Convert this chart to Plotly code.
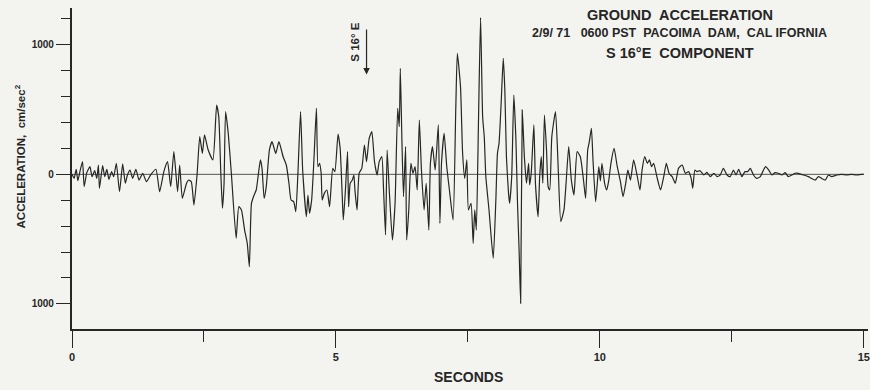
import plotly.graph_objects as go

# Strong-motion record, Pacoima Dam, S16E component (time in s, acceleration in cm/s^2)
t_sec = [
    0.00, 0.04, 0.08, 0.11, 0.15, 0.20, 0.23, 0.28, 0.34, 0.38, 0.43, 0.47, 0.50, 0.52,
    0.58, 0.62, 0.66, 0.70, 0.75, 0.79, 0.84, 0.90, 0.96, 1.01, 1.05, 1.10, 1.15, 1.21,
    1.27, 1.34, 1.41, 1.49, 1.59, 1.66, 1.74, 1.81, 1.87, 1.93, 2.00, 2.04, 2.09, 2.17,
    2.21, 2.26, 2.31, 2.37, 2.42, 2.47, 2.51, 2.58, 2.67, 2.74, 2.78, 2.82, 2.85, 2.88,
    2.91, 2.96, 3.02, 3.11, 3.16, 3.21, 3.27, 3.32, 3.36, 3.40, 3.45, 3.49, 3.53, 3.57,
    3.60, 3.64, 3.68, 3.74, 3.79, 3.86, 3.92, 4.00, 4.06, 4.11, 4.15, 4.20, 4.24, 4.28,
    4.33, 4.37, 4.44, 4.47, 4.50, 4.54, 4.58, 4.63, 4.66, 4.69, 4.72, 4.74, 4.78, 4.83,
    4.88, 4.94, 4.98, 5.04, 5.08, 5.12, 5.14, 5.18, 5.22, 5.24, 5.27, 5.31, 5.34, 5.36,
    5.40, 5.44, 5.49, 5.54, 5.58, 5.63, 5.68, 5.73, 5.78, 5.82, 5.87, 5.90, 5.94, 5.97,
    6.01, 6.07, 6.12, 6.17, 6.20, 6.22, 6.25, 6.28, 6.32, 6.34, 6.38, 6.42, 6.46, 6.50,
    6.54, 6.58, 6.62, 6.67, 6.71, 6.76, 6.79, 6.83, 6.88, 6.94, 6.97, 7.00, 7.05, 7.10,
    7.15, 7.22, 7.27, 7.30, 7.36, 7.40, 7.44, 7.48, 7.51, 7.56, 7.60, 7.63, 7.66, 7.70,
    7.74, 7.78, 7.81, 7.84, 7.90, 7.98, 8.03, 8.06, 8.09, 8.13, 8.17, 8.20, 8.23, 8.27,
    8.29, 8.33, 8.37, 8.41, 8.44, 8.47, 8.50, 8.53, 8.57, 8.61, 8.65, 8.67, 8.70, 8.75,
    8.78, 8.83, 8.86, 8.89, 8.92, 8.95, 8.99, 9.02, 9.05, 9.09, 9.16, 9.21, 9.26, 9.32,
    9.36, 9.41, 9.46, 9.51, 9.57, 9.63, 9.69, 9.73, 9.77, 9.80, 9.84, 9.87, 9.92, 9.98,
    10.01, 10.04, 10.09, 10.13, 10.17, 10.21, 10.27, 10.33, 10.39, 10.44, 10.49, 10.53,
    10.58, 10.64, 10.71, 10.76, 10.80, 10.85, 10.90, 10.94, 10.98, 11.02, 11.08, 11.15,
    11.21, 11.26, 11.31, 11.37, 11.43, 11.49, 11.56, 11.62, 11.68, 11.73, 11.76, 11.80,
    11.84, 11.90, 11.97, 12.03, 12.09, 12.16, 12.22, 12.28, 12.34, 12.41, 12.47, 12.53,
    12.58, 12.63, 12.69, 12.75, 12.80, 12.85, 12.91, 12.97, 13.04, 13.10, 13.14, 13.20,
    13.26, 13.32, 13.38, 13.45, 13.51, 13.57, 13.64, 13.70, 13.76, 13.86, 13.95, 14.01,
    14.08, 14.14, 14.20, 14.27, 14.33, 14.39, 14.49, 14.58, 14.68, 14.77, 14.86, 14.96,
    15.00,
]

accel = [
    0, -31, 39, -49, 21, 98, -95, 13, 59, -18, 28, -31, 72, -108,
    67, -18, 39, -39, 21, -18, 85, -134, 80, -69, -5, 33, -31, 39,
    -44, 8, -57, -5, 39, -134, 21, 98, -95, 175, -134, 72, -185, -69,
    -44, -57, -237, 0, 291, 162, 304, 188, 111, 535, 445, 0, -262, -77,
    484, 316, 0, -494, -250, -275, -430, -533, -713, -224, -160, -121, 0, 111,
    46, -185, -95, 188, 252, 162, 252, 136, 72, -69, -198, -211, -288, 8,
    484, 33, -327, -160, -301, -198, 85, 509, 59, 85, 8, -198, -147, -121,
    -250, 46, 21, 311, 200, -172, -352, -121, 175, -250, -69, -44, -5, -121,
    -275, 8, 46, 226, 98, 278, 329, 100, -5, 98, 136, -95, -468, 188,
    -121, -507, -224, 509, 368, 818, 265, -172, 214, -507, -275, 85, 8, 59,
    -121, 419, 33, -275, -69, -430, 85, 214, 33, 381, -378, 85, 316, 59,
    -121, -352, 497, 934, 677, 162, -31, 111, -275, -224, -533, -275, -430, 394,
    1210, 440, 291, -18, -275, -648, -198, 162, 239, 548, 895, 651, 136, -147,
    -224, -18, 612, 265, -224, -584, -996, 497, 136, -69, 85, -82, 8, 381,
    -69, -327, -18, 136, -69, 458, 188, -95, -121, 291, 484, 59, -365, -275,
    -69, 214, -44, -160, 175, 136, -44, -185, 188, 250, 355, 111, -211, 59,
    -50, 85, -69, -121, -44, 85, 200, 59, -57, -172, -69, 33,
    -44, 111, -18, -121, 33, 136, 85, 111, 59, 85, -18, -121,
    -18, 85, 8, -18, -69, 46, 72, 8, 21, -31, -108, 33,
    21, 28, -5, 15, -18, 8, -18, -5, 46, -5, -18, 33,
    -5, 39, -18, 21, 21, 46, -5, -31, -18, 33, 59, 33,
    -5, 13, 8, -5, 13, -18, -5, 8, 8, -5, -18, -31,
    -44, -18, -31, -44, -5, -18, -5, 0, -5, 0, -5, 0,
    0,
]

# Axis ticks
x_major = [0, 5, 10, 15]
x_major_text = ["0", "5", "10", "15"]
x_minor = [2.5, 7.5, 12.5]
y_major = [-1000, 0, 1000]
y_major_text = ["1000", "0", "1000"]
y_minor = [-800, -600, -400, -200, 200, 400, 600, 800, 1200]

# Arrival marker
arrival_time = 5.58
arrival_label = "S 16° E"

title_lines = [
    "GROUND  ACCELERATION",
    "2/9/ 71   0600 PST  PACOIMA  DAM,  CAL IFORNIA",
    "S 16°E  COMPONENT",
]
title_y = [1232, 1090, 935]
title_size = [14.5, 12.5, 14.5]

INK = "#262626"
FONT = "Liberation Sans, Arial, sans-serif"

fig = go.Figure()

# zero baseline
fig.add_trace(go.Scatter(
    x=[0, 15], y=[0, 0], mode="lines",
    line=dict(color="#555555", width=1), hoverinfo="skip", showlegend=False,
))

# acceleration trace
fig.add_trace(go.Scatter(
    x=t_sec, y=accel, mode="lines",
    line=dict(color=INK, width=1.2, shape="spline", smoothing=0.5),
    showlegend=False,
))

annotations = []
# title block
for text, yv, size in zip(title_lines, title_y, title_size):
    annotations.append(dict(
        x=11.51, y=yv, xref="x", yref="y", text="<b>" + text + "</b>", showarrow=False,
        xanchor="center", yanchor="middle",
        font=dict(family=FONT, size=size, color=INK),
    ))

# arrival arrow and label
annotations.append(dict(
    x=arrival_time, y=770, ax=arrival_time, ay=1130, xref="x", yref="y",
    axref="x", ayref="y", text="", showarrow=True,
    arrowhead=2, arrowsize=1.1, arrowwidth=1.2, arrowcolor=INK,
))
annotations.append(dict(
    x=5.37, y=1020, xref="x", yref="y", text="<b>" + arrival_label + "</b>",
    showarrow=False, textangle=-90, xanchor="center", yanchor="middle",
    font=dict(family=FONT, size=11.5, color=INK),
))

# axis titles
annotations.append(dict(
    x=-0.065, y=140, xref="paper", yref="y",
    text="<b>ACCELERATION,  cm/sec<sup>2</sup></b>", showarrow=False, textangle=-90,
    xanchor="center", yanchor="middle",
    font=dict(family=FONT, size=11.5, color=INK),
))
annotations.append(dict(
    x=7.52, y=-0.15, xref="x", yref="paper", text="<b>SECONDS</b>", showarrow=False,
    xanchor="center", yanchor="middle",
    font=dict(family=FONT, size=14, color=INK),
))

fig.update_layout(
    width=870, height=390,
    margin=dict(l=72, r=0, t=8, b=61),
    paper_bgcolor="#f3f3ef", plot_bgcolor="#f3f3ef",
    annotations=annotations,
    showlegend=False,
)

fig.update_xaxes(
    range=[0, 15.08], showgrid=False, zeroline=False,
    showline=True, linecolor=INK, linewidth=2.2,
    tickmode="array", tickvals=x_major, ticktext=["<b>%s</b>" % s for s in x_major_text],
    ticks="outside", ticklen=17, tickwidth=1.4, tickcolor=INK,
    tickfont=dict(family=FONT, size=11, color=INK),
    ticklabelstandoff=0, ticklabeloverflow="allow",
    minor=dict(tickmode="array", tickvals=x_minor, ticks="outside",
               ticklen=11, tickwidth=1.3, tickcolor=INK, showgrid=False),
)
fig.update_yaxes(
    range=[-1194, 1284], showgrid=False, zeroline=False,
    showline=True, linecolor=INK, linewidth=2.2,
    tickmode="array", tickvals=y_major, ticktext=["<b>%s</b>" % s for s in y_major_text],
    ticks="outside", ticklen=14, tickwidth=1.3, tickcolor=INK,
    tickfont=dict(family=FONT, size=10, color=INK),
    minor=dict(tickmode="array", tickvals=y_minor, ticks="outside",
               ticklen=9, tickwidth=1.3, tickcolor=INK, showgrid=False),
)

fig.write_html("out.html")
